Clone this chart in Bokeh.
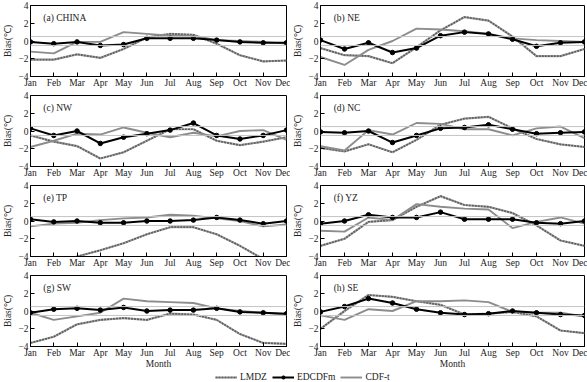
from bokeh.plotting import figure
from bokeh.layouts import column, row
from bokeh.models import (Range1d, FixedTicker, Label, Legend, LegendItem,
                          ColumnDataSource, Span)
from bokeh.embed import file_html
from bokeh.resources import INLINE

FONT = "Liberation Serif"

months = ["Jan", "Feb", "Mar", "Apr", "May", "Jun",
          "Jul", "Aug", "Sep", "Oct", "Nov", "Dec"]
y_ticks = [-4, -2, 0, 2, 4]

# Monthly temperature bias (°C) per region
china_lmdz = [-2.1, -2.1, -1.5, -1.9, -0.9, 0.4, 0.8, 0.7, -0.3, -1.6, -2.3, -2.2]
china_ed = [-0.1, -0.3, -0.1, -0.5, -0.4, 0.3, 0.3, 0.3, 0.1, -0.1, -0.2, -0.2]
china_cdft = [-1.2, -1.4, -0.1, -0.1, 1.0, 0.8, 0.6, 0.6, 0.1, 0.0, -0.1, -0.3]

ne_lmdz = [-0.8, -1.6, -1.7, -2.5, -0.7, 1.2, 2.7, 2.3, 0.5, -1.7, -1.7, -0.9]
ne_ed = [0.1, -0.9, -0.2, -1.3, -0.8, 0.6, 1.0, 0.8, 0.2, -0.6, -0.2, -0.1]
ne_cdft = [-1.8, -2.7, -1.0, 0.0, 1.4, 1.3, 1.1, 0.8, 0.3, 0.1, 0.0, -0.1]

nw_lmdz = [-0.5, -1.2, -1.7, -3.1, -2.4, -1.1, 0.2, 0.2, -1.1, -1.6, -1.2, -0.7]
nw_ed = [0.3, -0.5, 0.0, -1.4, -0.7, -0.3, 0.1, 0.9, -0.5, -0.9, -0.5, 0.1]
nw_cdft = [-1.8, -1.1, -0.3, -0.4, 0.4, -0.2, -0.7, -0.2, -0.6, 0.0, 0.1, -1.0]

nc_lmdz = [-1.9, -2.3, -1.5, -2.4, -1.0, 0.7, 1.4, 1.6, 0.3, -0.9, -1.5, -1.8]
nc_ed = [-0.1, -0.2, 0.0, -1.3, -0.5, 0.3, 0.4, 0.7, 0.2, -0.3, -0.2, -0.1]
nc_cdft = [-1.7, -2.2, 0.1, -0.4, 0.9, 0.8, 0.2, 0.2, -0.5, 0.3, 0.5, -0.8]

tp_lmdz = [-5.4, -4.8, -4.0, -3.3, -2.5, -1.5, -0.7, -0.7, -1.5, -2.8, -4.3, -5.2]
tp_ed = [0.2, -0.1, 0.0, -0.2, -0.2, 0.0, 0.0, 0.1, 0.4, 0.1, -0.3, 0.0]
tp_cdft = [-0.6, -0.3, -0.2, 0.1, 0.3, 0.4, 0.7, 0.6, 0.3, 0.0, -0.6, -0.4]

yz_lmdz = [-2.8, -2.0, -0.1, 0.1, 1.6, 2.8, 1.8, 1.6, 0.9, -0.5, -2.2, -2.8]
yz_ed = [-0.3, 0.0, 0.7, 0.4, 0.4, 1.0, 0.2, 0.2, 0.2, -0.2, -0.3, 0.0]
yz_cdft = [-1.1, -1.2, 0.4, 0.1, 1.9, 1.6, 1.4, 1.3, -0.8, -0.1, 0.4, -0.3]

sw_lmdz = [-3.6, -2.9, -1.5, -1.0, -0.8, -1.0, -0.3, -0.4, -1.0, -2.6, -3.6, -3.7]
sw_ed = [-0.2, 0.2, 0.3, 0.1, 0.4, 0.0, 0.1, 0.1, 0.3, -0.1, -0.2, -0.3]
sw_cdft = [-0.2, -1.0, -0.6, -0.2, 1.4, 1.1, 1.0, 0.9, 0.3, 0.0, -0.2, -0.4]

se_lmdz = [-2.0, 0.0, 1.8, 1.6, 1.1, 0.7, -0.4, -0.3, -0.1, -0.6, -2.2, -2.5]
se_ed = [-0.1, 0.5, 1.4, 0.9, 0.2, -0.2, -0.4, -0.3, 0.0, -0.2, -0.4, -0.5]
se_cdft = [-0.5, -1.0, 0.2, 0.0, 1.1, 1.1, 1.2, 1.0, -0.1, -0.2, -0.2, -0.6]

band = [0.5, -0.5]

LMDZ_DARK = "#5e5e5e"
LMDZ_LIGHT = "#acacac"
CDFT_COLOR = "#8c8c8c"
BAND_COLOR = "#c4c4c4"

x = list(range(1, len(months) + 1))


def panel(title, lmdz, ed, cdft, left_col, bottom):
    height = 101 if bottom else 90
    if left_col:
        width, mbl, mbr = 290, 24, 4
    else:
        width, mbl, mbr = 297, 25, 3
    p = figure(width=width, height=height, output_backend="svg",
               toolbar_location=None,
               x_range=Range1d(1, 12), y_range=Range1d(-4, 4),
               min_border_left=mbl, min_border_right=mbr,
               min_border_top=5, min_border_bottom=10)
    p.grid.visible = False
    p.outline_line_color = "black"
    p.outline_line_width = 1
    p.background_fill_color = "white"

    for axis in (p.xaxis[0], p.yaxis[0]):
        axis.major_tick_in = 4
        axis.major_tick_out = 0
        axis.minor_tick_line_color = None
        axis.axis_line_color = "black"
        axis.major_tick_line_color = "black"
        axis.major_label_text_font = FONT
        axis.major_label_text_font_size = "9.5px"
        axis.major_label_text_color = "#222222"
        axis.axis_label_text_font = FONT
        axis.axis_label_text_font_size = "9.5px"
        axis.axis_label_text_font_style = "normal"
        axis.axis_label_text_color = "#222222"

    p.xaxis.ticker = FixedTicker(ticks=x)
    p.xaxis.major_label_overrides = {i: m for i, m in zip(x, months)}
    p.xaxis.major_label_standoff = 1
    p.yaxis.ticker = FixedTicker(ticks=y_ticks)
    p.yaxis.major_label_standoff = 2
    p.yaxis.axis_label = "Bias(\u2103)"
    p.yaxis.axis_label_standoff = 2
    if bottom:
        p.xaxis.axis_label = "Month"
        p.xaxis.axis_label_standoff = -2

    for v in band:
        p.add_layout(Span(location=v, dimension="width",
                          line_color=BAND_COLOR, line_width=1))

    p.line(x, lmdz, line_color=LMDZ_LIGHT, line_width=2.2)
    p.line(x, lmdz, line_color=LMDZ_DARK, line_width=1.7, line_dash="2 1")
    p.line(x, cdft, line_color=CDFT_COLOR, line_width=1.9)
    p.line(x, ed, line_color="black", line_width=2.0)
    p.scatter(x, ed, size=4.5, marker="circle",
              fill_color="black", line_color="black")

    p.add_layout(Label(x=1.55, y=2.6, text=title, text_font=FONT,
                       text_font_size="9.5px", text_color="#222222",
                       text_baseline="middle"))
    return p


pa = panel("(a) CHINA", china_lmdz, china_ed, china_cdft, True, False)
pb = panel("(b) NE", ne_lmdz, ne_ed, ne_cdft, False, False)
pc = panel("(c) NW", nw_lmdz, nw_ed, nw_cdft, True, False)
pd = panel("(d) NC", nc_lmdz, nc_ed, nc_cdft, False, False)
pe = panel("(e) TP", tp_lmdz, tp_ed, tp_cdft, True, False)
pf = panel("(f) YZ", yz_lmdz, yz_ed, yz_cdft, False, False)
pg = panel("(g) SW", sw_lmdz, sw_ed, sw_cdft, True, True)
ph = panel("(h) SE", se_lmdz, se_ed, se_cdft, False, True)

# Shared legend strip under the panels; its renderers sit outside the view
lg = figure(width=587, height=11, output_backend="svg", toolbar_location=None,
            x_axis_type=None, y_axis_type=None, min_border=0,
            x_range=Range1d(0, 1), y_range=Range1d(0, 1))
lg.outline_line_color = None
lg.grid.visible = False
off = ColumnDataSource(data=dict(x=[-10, -9], y=[-10, -9]))
g1 = lg.line("x", "y", source=off, line_color=LMDZ_LIGHT, line_width=2.2)
g2 = lg.line("x", "y", source=off, line_color=LMDZ_DARK, line_width=1.7,
             line_dash="2 1")
g3 = lg.line("x", "y", source=off, line_color="black", line_width=2.0)
g4 = lg.scatter("x", "y", source=off, size=4.5, marker="circle",
                fill_color="black", line_color="black")
g5 = lg.line("x", "y", source=off, line_color=CDFT_COLOR, line_width=1.9)
legend = Legend(items=[LegendItem(label="LMDZ", renderers=[g1, g2], index=0),
                       LegendItem(label="EDCDFm", renderers=[g3, g4], index=0),
                       LegendItem(label="CDF-t", renderers=[g5], index=0)],
                orientation="horizontal", location=(215, 0),
                border_line_color=None, background_fill_alpha=0,
                padding=0, margin=0, spacing=5,
                glyph_width=22, glyph_height=8, label_height=8,
                label_text_font=FONT, label_text_font_size="9.5px",
                label_text_color="#222222", label_standoff=3)
lg.add_layout(legend, "center")

layout = column(row(pa, pb), row(pc, pd), row(pe, pf), row(pg, ph), lg)

open("out.html", "w").write(file_html(layout, INLINE))
